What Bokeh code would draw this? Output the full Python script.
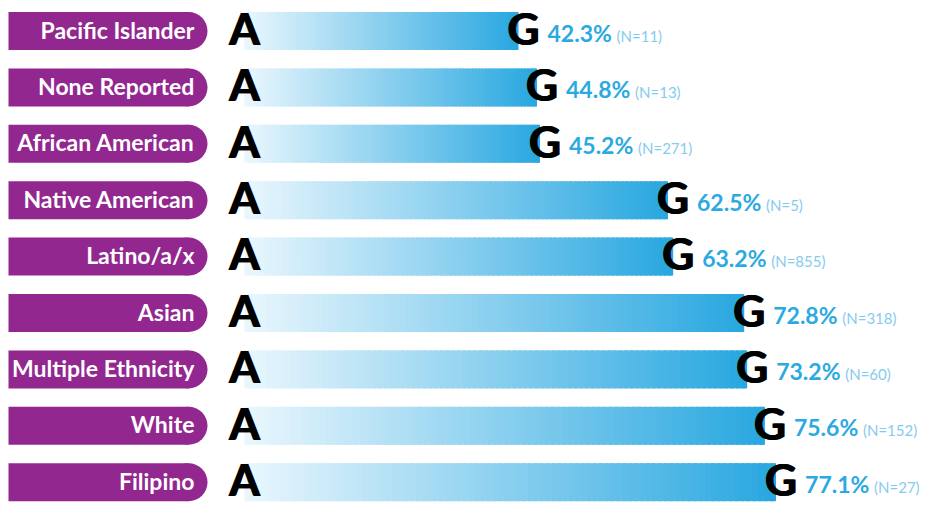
from bokeh.plotting import figure
from bokeh.models import Range1d, ColumnDataSource
from bokeh.embed import file_html
from bokeh.resources import INLINE
from bokeh.core.properties import value

groups = ["Pacific Islander", "None Reported", "African American", "Native American",
          "Latino/a/x", "Asian", "Multiple Ethnicity", "White", "Filipino"]
rates = [42.3, 44.8, 45.2, 62.5, 63.2, 72.8, 73.2, 75.6, 77.1]
counts = [11, 13, 271, 5, 855, 318, 60, 152, 27]

PURPLE = "#92278F"
BLUE_TXT = "#2BA9E1"
N_TXT = "#86CBEE"
C0 = (234, 247, 253)
C1 = (40, 167, 224)

W, H = 924, 507
PX_PER_UNIT = 7.4
ZERO_X = 205.0
ROW_PX = 56.4
FIRST_Y = 30.5

BAR_START = (244 - ZERO_X) / PX_PER_UNIT
PILL_LEFT = (8 - ZERO_X) / PX_PER_UNIT
PILL_END = (188 - ZERO_X) / PX_PER_UNIT
ROW_H = 38 / ROW_PX

p = figure(width=W, height=H, output_backend="svg", toolbar_location=None,
           x_range=Range1d(-ZERO_X / PX_PER_UNIT, (W - ZERO_X) / PX_PER_UNIT),
           y_range=Range1d((H - FIRST_Y) / ROW_PX, -FIRST_Y / ROW_PX),
           min_border=0)
p.axis.visible = False
p.grid.visible = False
p.outline_line_color = None
p.background_fill_color = "white"
p.border_fill_color = "white"

ys = list(range(len(groups)))

# gradient bars
seg = dict(left=[], right=[], bottom=[], top=[], color=[])
nseg = 90
for i, v in enumerate(rates):
    span = v - BAR_START
    for k in range(nseg):
        t0 = k / nseg
        t1 = (k + 1.6) / nseg if k < nseg - 1 else 1.0
        tm = (k + 0.5) / nseg
        c = tuple(int(round(C0[j] + (C1[j] - C0[j]) * tm)) for j in range(3))
        seg["left"].append(BAR_START + span * t0)
        seg["right"].append(BAR_START + span * t1)
        seg["bottom"].append(i + ROW_H / 2)
        seg["top"].append(i - ROW_H / 2)
        seg["color"].append("#%02x%02x%02x" % c)
p.quad(left="left", right="right", bottom="bottom", top="top", fill_color="color",
       line_color=None, source=ColumnDataSource(seg))

# purple pills
p.quad(left=[PILL_LEFT] * len(ys), right=[PILL_END] * len(ys),
       bottom=[y + ROW_H / 2 for y in ys], top=[y - ROW_H / 2 for y in ys],
       fill_color=PURPLE, line_color=None)
p.ellipse(x=[PILL_END] * len(ys), y=ys, width=38 / PX_PER_UNIT, height=ROW_H,
          fill_color=PURPLE, line_color=None)

src = ColumnDataSource(dict(
    y=ys, v=rates, label=groups,
    pct=["%.1f%%" % r for r in rates],
    n=["(N=%d)" % c for c in counts],
    a=["A"] * len(ys), g=["G"] * len(ys),
    px=[PILL_END + 0.8] * len(ys), ax=[BAR_START] * len(ys),
))

p.text(x="px", y="y", text="label", source=src, text_font=value("Lato"),
       text_font_style="bold", text_font_size="23px", text_color="white",
       text_align="right", text_baseline="alphabetic", y_offset=-1.5)

for dx in (-0.8, 0.8):
    p.text(x="ax", y="y", text="a", source=src, text_font=value("Lato"),
           text_font_style="bold", text_font_size="44px", text_color="black",
           text_align="center", text_baseline="alphabetic", y_offset=-3.3, x_offset=dx)
    p.text(x="v", y="y", text="g", source=src, text_font=value("Lato"),
           text_font_style="bold", text_font_size="44px", text_color="black",
           text_align="center", text_baseline="alphabetic", y_offset=-3.3, x_offset=5 + dx)

p.text(x="v", y="y", text="pct", source=src, text_font=value("Lato"),
       text_font_style="bold", text_font_size="23px", text_color=BLUE_TXT,
       text_align="left", text_baseline="alphabetic", y_offset=1.5, x_offset=29)
p.text(x="v", y="y", text="n", source=src, text_font=value("Lato"),
       text_font_size="15px", text_color=N_TXT,
       text_align="left", text_baseline="alphabetic", y_offset=4.5, x_offset=98)

open("out.html", "w").write(file_html(p, INLINE))
